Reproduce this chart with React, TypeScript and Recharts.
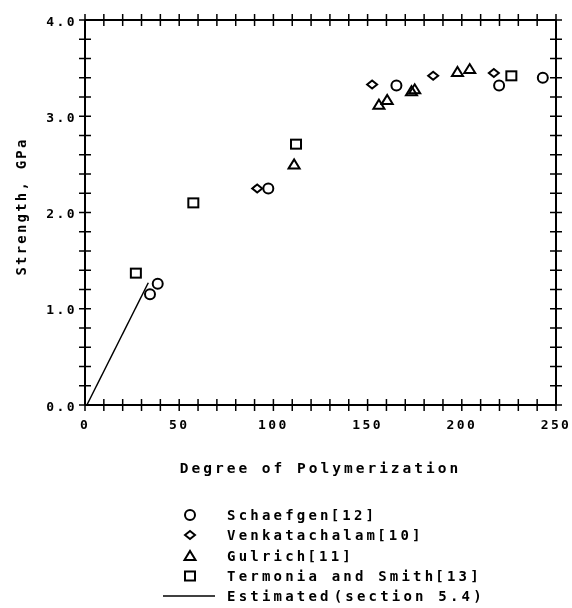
import React from 'react';
import { ScatterChart, Scatter, XAxis, YAxis, Legend } from 'recharts';

const xTicks = [0, 10, 20, 30, 40, 50, 60, 70, 80, 90, 100, 110, 120, 130, 140, 150, 160, 170, 180, 190, 200, 210, 220, 230, 240, 250];
const xLabels = [0, 50, 100, 150, 200, 250];
const yTicks = [0, 0.2, 0.4, 0.6, 0.8, 1, 1.2, 1.4, 1.6, 1.8, 2, 2.2, 2.4, 2.6, 2.8, 3, 3.2, 3.4, 3.6, 3.8, 4];
const yLabels = [0, 1, 2, 3, 4];

const schaefgen = [
  { x: 34.5, y: 1.15 },
  { x: 38.6, y: 1.26 },
  { x: 97.3, y: 2.25 },
  { x: 165.3, y: 3.32 },
  { x: 219.8, y: 3.32 },
  { x: 243, y: 3.4 },
];
const venkatachalam = [
  { x: 91.4, y: 2.25 },
  { x: 152.4, y: 3.33 },
  { x: 184.8, y: 3.42 },
  { x: 217, y: 3.45 },
];
const gulrich = [
  { x: 111, y: 2.5 },
  { x: 156, y: 3.12 },
  { x: 160.4, y: 3.17 },
  { x: 173.3, y: 3.26 },
  { x: 175, y: 3.28 },
  { x: 197.7, y: 3.46 },
  { x: 204.2, y: 3.49 },
];
const termonia = [
  { x: 27, y: 1.37 },
  { x: 57.5, y: 2.1 },
  { x: 112, y: 2.71 },
  { x: 226.3, y: 3.42 },
];
const estimated = [
  { x: 1, y: 0 },
  { x: 33.6, y: 1.27 },
];

const font = "'DejaVu Sans Mono', monospace";

type Kind = 'circle' | 'diamond' | 'triangle' | 'square' | 'line';

const legendItems: { kind: Kind; name: string; ref: string }[] = [
  { kind: 'circle', name: 'Schaefgen', ref: '[12]' },
  { kind: 'diamond', name: 'Venkatachalam', ref: '[10]' },
  { kind: 'triangle', name: 'Gulrich', ref: '[11]' },
  { kind: 'square', name: 'Termonia and Smith', ref: '[13]' },
  { kind: 'line', name: 'Estimated', ref: '(section 5.4)' },
];

function Mark({ cx, cy, kind }: { cx: number; cy: number; kind: Kind }) {
  const s = { fill: 'none', stroke: '#000', strokeWidth: 2 };
  if (kind === 'circle') return <circle cx={cx} cy={cy} r={5} {...s} />;
  if (kind === 'square') return <rect x={cx - 5} y={cy - 4.5} width={10} height={9} {...s} />;
  if (kind === 'diamond')
    return <path d={`M${cx - 5},${cy} L${cx},${cy - 4} L${cx + 5},${cy} L${cx},${cy + 4} Z`} {...s} />;
  if (kind === 'triangle')
    return <path d={`M${cx - 5.5},${cy + 4} L${cx},${cy - 5} L${cx + 5.5},${cy + 4} Z`} {...s} />;
  return <g />;
}

const shapeFor = (kind: Kind) => (p: any) => <Mark cx={p.cx} cy={p.cy} kind={kind} />;

const labelStyle = { fontFamily: font, fontSize: 13, fontWeight: 'bold' as const, letterSpacing: 2.4, fill: '#000' };

const BottomTick = (props: any) => {
  const { x, y, payload } = props;
  return (
    <g>
      <line x1={x} x2={x} y1={y - 6} y2={y + 6} stroke="#000" strokeWidth={1.5} />
      {xLabels.includes(payload.value) && (
        <text x={x} y={y + 19} textAnchor="middle" dominantBaseline="central" {...labelStyle}>
          {payload.value}
        </text>
      )}
    </g>
  );
};

const LeftTick = (props: any) => {
  const { x, y, payload } = props;
  return (
    <g>
      <line x1={x - 6} x2={x + 6} y1={y} y2={y} stroke="#000" strokeWidth={1.5} />
      {yLabels.includes(payload.value) && (
        <text x={x - 8} y={y + 1} textAnchor="end" dominantBaseline="central" {...labelStyle}>
          {payload.value.toFixed(1)}
        </text>
      )}
    </g>
  );
};

const TopTick = (props: any) => (
  <line x1={props.x} x2={props.x} y1={props.y - 6} y2={props.y + 6} stroke="#000" strokeWidth={1.5} />
);

const RightTick = (props: any) => (
  <line x1={props.x - 6} x2={props.x + 6} y1={props.y} y2={props.y} stroke="#000" strokeWidth={1.5} />
);

const XTitle = (props: any) => {
  const { x, y, width } = props.viewBox;
  return (
    <text x={x + width / 2} y={y + 63} textAnchor="middle" dominantBaseline="central"
      style={{ fontFamily: font, fontSize: 14.5, fontWeight: 'bold', letterSpacing: 3 }} fill="#000">
      Degree of Polymerization
    </text>
  );
};

const YTitle = (props: any) => {
  const { x, y, height } = props.viewBox;
  const cx = x - 14;
  const cy = y + height / 2 - 6;
  return (
    <text x={cx} y={cy} textAnchor="middle" dominantBaseline="central" transform={`rotate(-90 ${cx} ${cy})`}
      style={{ fontFamily: font, fontSize: 14, fontWeight: 'bold', letterSpacing: 2.2 }} fill="#000">
      Strength, GPa
    </text>
  );
};

const renderLegend = () => (
  <div style={{ fontFamily: font, fontSize: 14, fontWeight: 'bold', letterSpacing: 3.2, color: '#000' }}>
    {legendItems.map((it) => (
      <div key={it.name} style={{ display: 'flex', alignItems: 'center', height: 20.3 }}>
        <svg width={60} height={20} style={{ display: 'block' }}>
          {it.kind === 'line' ? (
            <line x1={0} x2={52} y1={10} y2={10} stroke="#000" strokeWidth={1.5} />
          ) : (
            <Mark cx={27} cy={10} kind={it.kind} />
          )}
        </svg>
        <span style={{ marginLeft: 4, whiteSpace: 'nowrap', lineHeight: '20px' }}>
          {it.name}
          <span style={{ marginLeft: it.kind === 'line' ? 2 : -1 }}>{it.ref}</span>
        </span>
      </div>
    ))}
  </div>
);

const axisLine = { stroke: '#000', strokeWidth: 2 };

export default function App() {
  return (
    <div style={{ position: 'fixed', left: 0, top: 0 }}>
      <ScatterChart width={572} height={608} margin={{ top: 19, right: 15, bottom: 173, left: 35 }}>
        <XAxis
          type="number"
          dataKey="x"
          xAxisId="bottom"
          domain={[0, 250]}
          ticks={xTicks}
          interval={0}
          height={30}
          tickSize={0}
          tickMargin={0}
          tickLine={false}
          axisLine={axisLine}
          tick={<BottomTick />}
          label={<XTitle />}
        />
        <XAxis
          type="number"
          dataKey="x"
          xAxisId="top"
          orientation="top"
          domain={[0, 250]}
          ticks={xTicks}
          interval={0}
          height={1}
          tickSize={0}
          tickMargin={0}
          tickLine={false}
          axisLine={axisLine}
          tick={<TopTick />}
        />
        <YAxis
          type="number"
          dataKey="y"
          yAxisId="left"
          domain={[0, 4]}
          ticks={yTicks}
          interval={0}
          width={50}
          tickSize={0}
          tickMargin={0}
          tickLine={false}
          axisLine={axisLine}
          tick={<LeftTick />}
          label={<YTitle />}
        />
        <YAxis
          type="number"
          dataKey="y"
          yAxisId="right"
          orientation="right"
          domain={[0, 4]}
          ticks={yTicks}
          interval={0}
          width={1}
          tickSize={0}
          tickMargin={0}
          tickLine={false}
          axisLine={axisLine}
          tick={<RightTick />}
        />
        <Scatter name="Schaefgen [12]" data={schaefgen} xAxisId="bottom" yAxisId="left" shape={shapeFor('circle')} isAnimationActive={false} />
        <Scatter name="Venkatachalam [10]" data={venkatachalam} xAxisId="bottom" yAxisId="left" shape={shapeFor('diamond')} isAnimationActive={false} />
        <Scatter name="Gulrich [11]" data={gulrich} xAxisId="bottom" yAxisId="left" shape={shapeFor('triangle')} isAnimationActive={false} />
        <Scatter name="Termonia and Smith [13]" data={termonia} xAxisId="top" yAxisId="right" shape={shapeFor('square')} isAnimationActive={false} />
        <Scatter
          name="Estimated (section 5.4)"
          data={estimated}
          xAxisId="bottom"
          yAxisId="left"
          line={{ stroke: '#000', strokeWidth: 1.5 }}
          shape={() => <g />}
          isAnimationActive={false}
        />
        <Legend
          layout="horizontal"
          align="center"
          verticalAlign="middle"
          content={renderLegend}
          wrapperStyle={{ left: 163, top: 505, width: 400 }}
        />
      </ScatterChart>
    </div>
  );
}
